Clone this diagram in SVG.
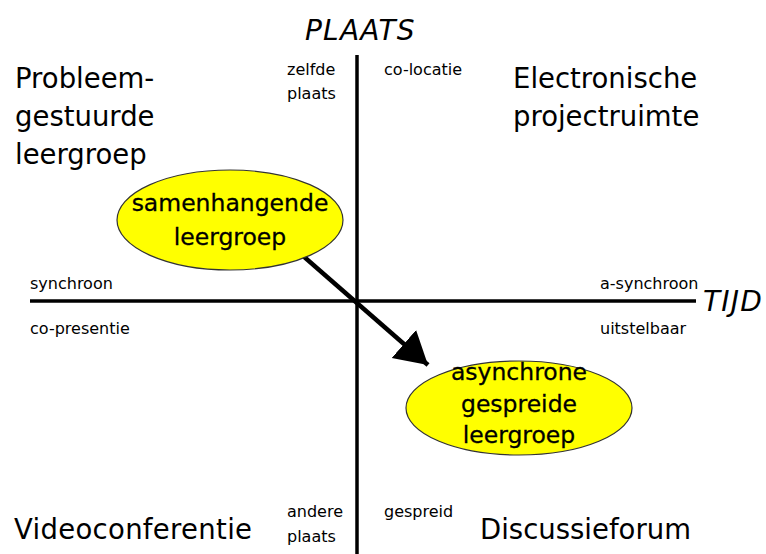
<svg xmlns="http://www.w3.org/2000/svg" width="766" height="554" viewBox="0 0 766 554">
<style>
text{font-family:"DejaVu Sans","Liberation Sans",sans-serif;fill:#000}
.big{font-size:27.5px}
.sm{font-size:16px}
.ax{font-size:28px;font-style:italic;letter-spacing:1.2px}
.nd{font-size:23.5px;text-anchor:middle;stroke:#000;stroke-width:0.3}
.ell{fill:#ffff00;stroke:#333;stroke-width:1.2}
.axis{stroke:#000;stroke-width:3.5}
</style>
<defs>
<marker id="ah" markerUnits="userSpaceOnUse" markerWidth="34" markerHeight="38" refX="32" refY="18.5" orient="auto">
<path d="M0,0 L32,18.5 L0,37 Z" fill="#000"/>
</marker>
</defs>
<rect width="766" height="554" fill="#fff"/>
<g id="axes">
<line class="axis" x1="357" y1="55" x2="357" y2="554"/>
<line class="axis" x1="30" y1="301" x2="696" y2="301"/>
<text class="ax" x="305" y="40">PLAATS</text>
<text class="ax" x="703" y="311">TIJD</text>
</g>
<g id="labels">
<text class="sm" x="287" y="75">zelfde</text>
<text class="sm" x="287" y="99">plaats</text>
<text class="sm" x="384" y="75">co-locatie</text>
<text class="sm" x="30" y="289">synchroon</text>
<text class="sm" x="30" y="334">co-presentie</text>
<text class="sm" x="600" y="289">a-synchroon</text>
<text class="sm" x="600" y="334">uitstelbaar</text>
<text class="sm" x="287" y="517">andere</text>
<text class="sm" x="287" y="542">plaats</text>
<text class="sm" x="384" y="517">gespreid</text>
</g>
<g id="quadrants">
<text class="big" x="15" y="88">Probleem-</text>
<text class="big" x="15" y="126">gestuurde</text>
<text class="big" x="15" y="164">leergroep</text>
<text class="big" x="513" y="88">Electronische</text>
<text class="big" x="513" y="126">projectruimte</text>
<text class="big" x="14" y="539" textLength="238">Videoconferentie</text>
<text class="big" x="480" y="539">Discussieforum</text>
</g>
<g id="connectors">
<line x1="302" y1="255" x2="428" y2="365" stroke="#000" stroke-width="4.5" marker-end="url(#ah)"/>
</g>
<g id="node-samenhangende">
<ellipse class="ell" cx="230" cy="220" rx="113" ry="50"/>
<text class="nd" x="230" y="211">samenhangende</text>
<text class="nd" x="230" y="245">leergroep</text>
</g>
<g id="node-asynchrone">
<ellipse class="ell" cx="519" cy="408" rx="113" ry="47"/>
<text class="nd" x="519" y="380">asynchrone</text>
<text class="nd" x="519" y="412">gespreide</text>
<text class="nd" x="519" y="443">leergroep</text>
</g>
</svg>
